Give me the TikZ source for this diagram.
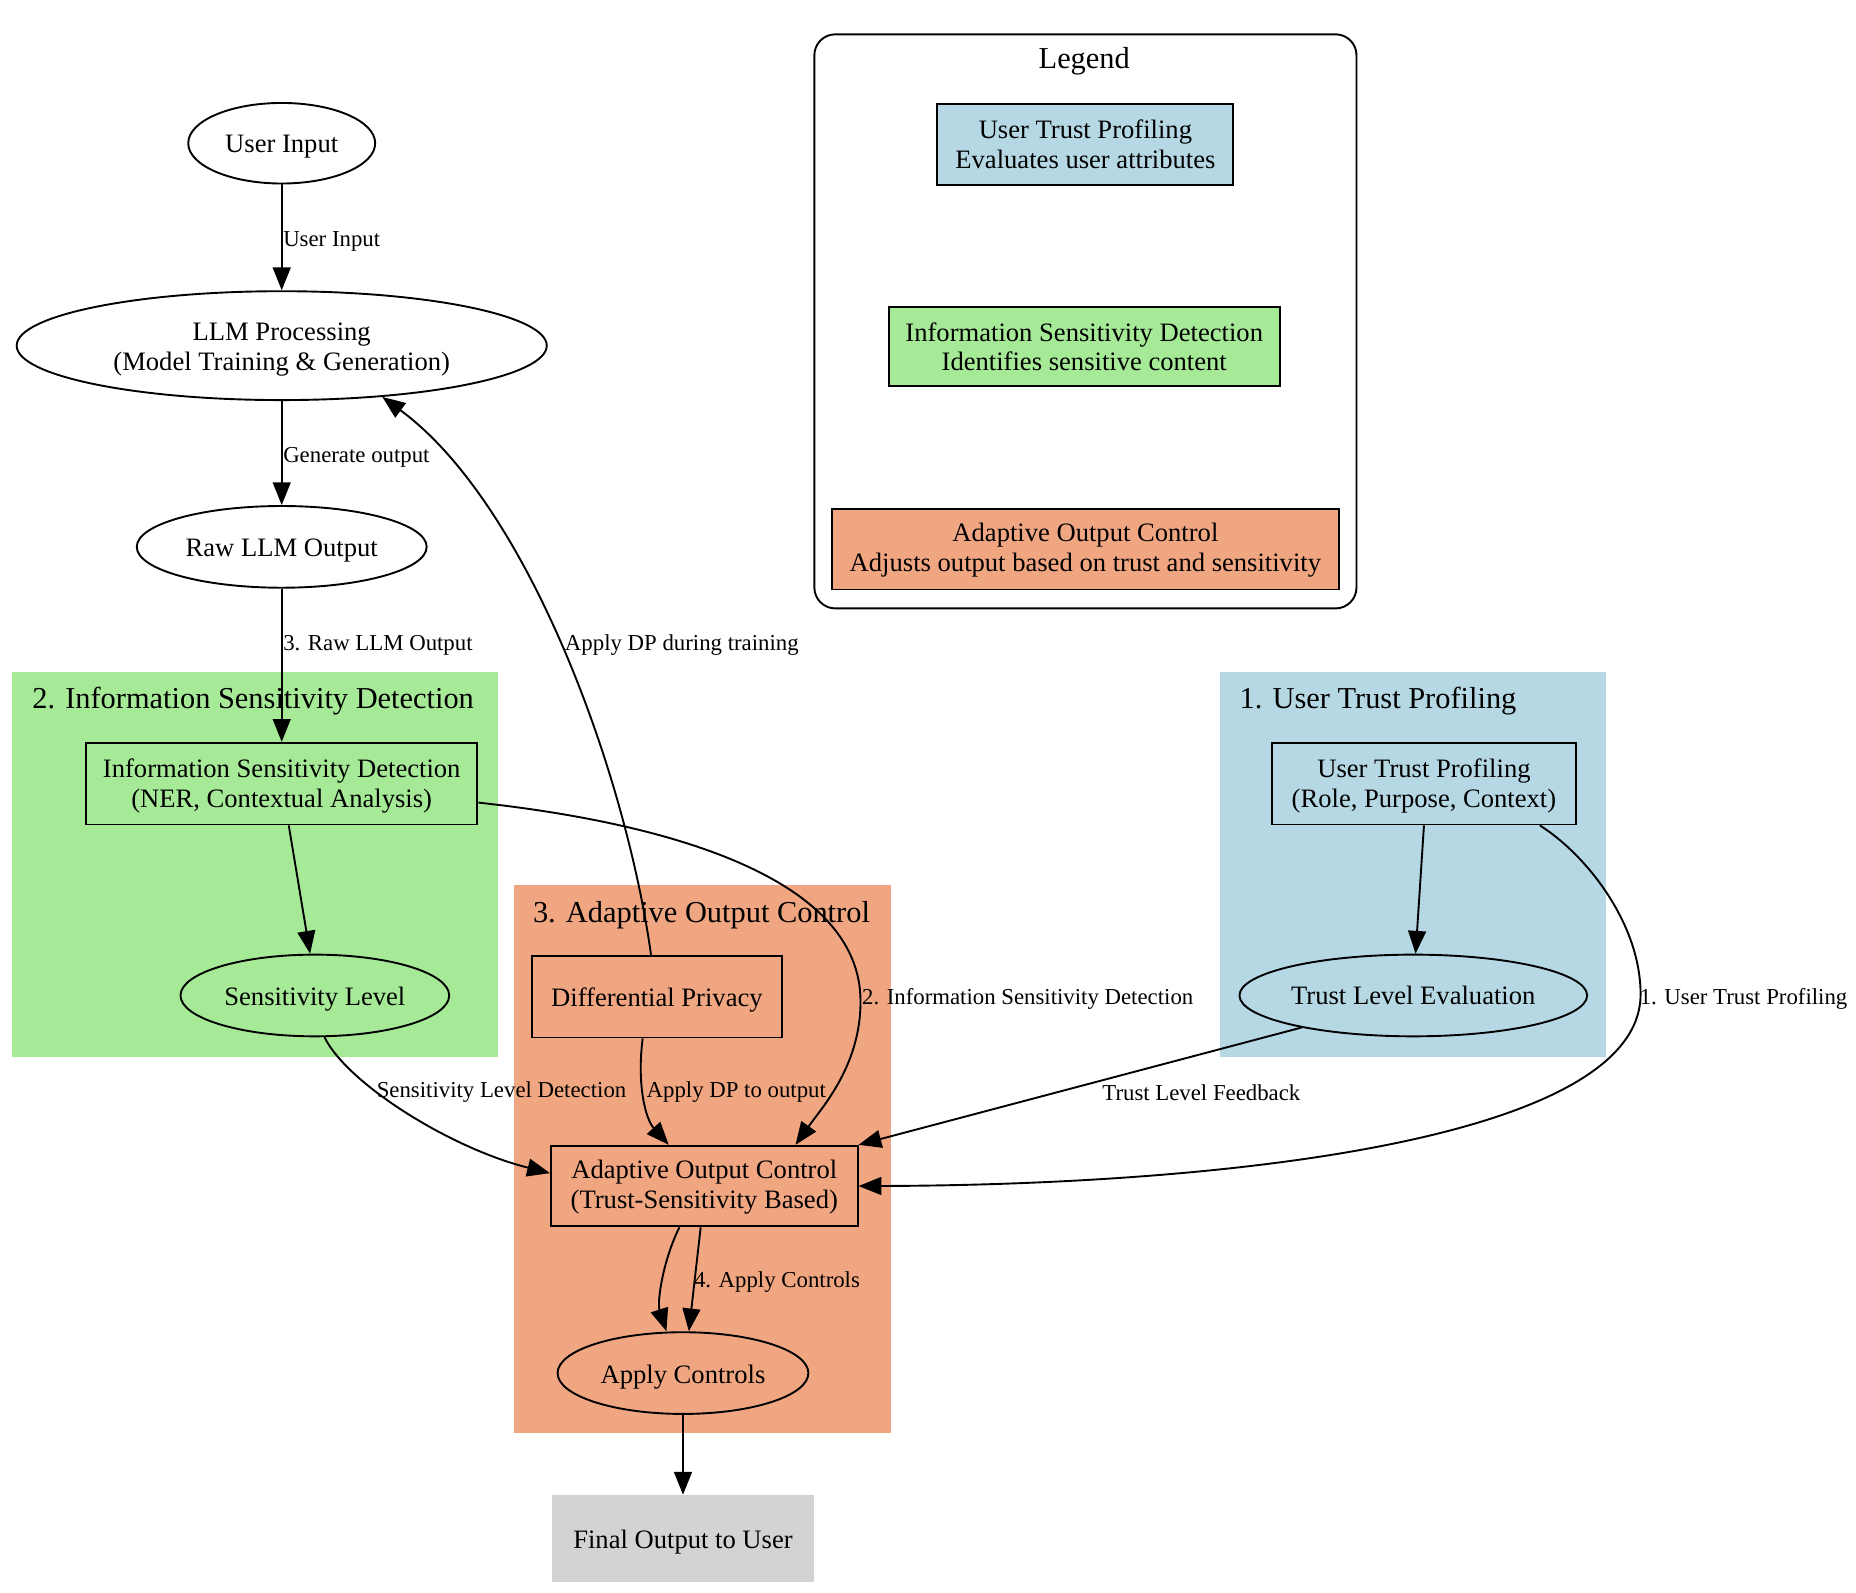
\documentclass[tikz,border=0pt]{standalone}
\usepackage{fontspec}
\setmainfont{Liberation Serif}
\usetikzlibrary{shapes.geometric,arrows.meta}
\definecolor{cblue}{HTML}{B6D8E4}
\definecolor{cgreen}{HTML}{A6EA98}
\definecolor{csalmon}{HTML}{F1A682}
\definecolor{cgray}{HTML}{D3D3D3}
\begin{document}
\begin{tikzpicture}[x=0.623pt,y=-0.623pt,
  nfont/.style={font=\fontsize{14pt}{15.6pt}\selectfont},
  txt/.style={nfont,align=center,inner sep=0pt},
  ell/.style={ellipse,draw,line width=1pt,inner sep=0pt},
  box/.style={rectangle,draw,line width=1pt,inner sep=0pt},
  arr/.style={-{Triangle[length=12pt,width=9.4pt]},line width=1pt},
  elab/.style={font=\fontsize{12pt}{14pt}\selectfont,anchor=west,inner sep=0pt},
  clab/.style={font=\fontsize{16pt}{18pt}\selectfont,anchor=west,inner sep=0pt},
]
\useasboundingbox (0,0) rectangle (1568,1345);

% clusters
\fill[cgreen] (10,568) rectangle (421,893);
\fill[csalmon] (434,748) rectangle (753,1211);
\fill[cblue] (1031,568) rectangle (1357,893);
\node[clab] (cl2) at (27,592) {2. Information Sensitivity Detection};
\node[clab] (cl3) at (450,773) {3. Adaptive Output Control};
\node[clab] (cl1) at (1047,592) {1. User Trust Profiling};

% legend
\draw[line width=1pt,rounded corners=11pt] (688,29) rectangle (1146,514);
\node[font=\fontsize{16pt}{18pt}\selectfont,inner sep=0pt] (lgt) at (916,52) {Legend};
\node[box, fill=cblue, minimum width=155.8pt, minimum height=43pt,
  label={[txt]center:{User Trust Profiling\\Evaluates user attributes}}] (lg1) at (917,122) {};
\node[box, fill=cgreen, minimum width=206pt, minimum height=41.7pt,
  label={[txt]center:{Information Sensitivity Detection\\Identifies sensitive content}}] (lg2) at (916,293) {};
\node[box, fill=csalmon, minimum width=266.6pt, minimum height=42.4pt,
  label={[txt,yshift=-0.6pt]center:{Adaptive Output Control\\Adjusts output based on trust and sensitivity}}] (lg3) at (917,464) {};

% nodes
\node[ell, minimum width=98.4pt, minimum height=42.4pt,
  label={[txt,yshift=-1.9pt]center:{User Input}}] (ui) at (238,121) {};
\node[ell, minimum width=279pt, minimum height=57.3pt,
  label={[txt,yshift=-1.9pt]center:{LLM Processing\\(Model Training \& Generation)}}] (llm) at (238,292) {};
\node[ell, minimum width=152.6pt, minimum height=43pt,
  label={[txt,yshift=-1.9pt]center:{Raw LLM Output}}] (raw) at (238,462) {};
\node[box, fill=cgreen, minimum width=206pt, minimum height=43pt,
  label={[txt,yshift=-1.25pt]center:{Information Sensitivity Detection\\(NER, Contextual Analysis)}}] (isd) at (238,662) {};
\node[ell, fill=cgreen, minimum width=141.4pt, minimum height=43pt,
  label={[txt,yshift=-1.9pt]center:{Sensitivity Level}}] (sl) at (266,841) {};
\node[box, fill=csalmon, minimum width=131.5pt, minimum height=43pt,
  label={[txt,yshift=-1.9pt]center:{Differential Privacy}}] (dp) at (555,842) {};
\node[box, fill=csalmon, minimum width=161.4pt, minimum height=42.4pt,
  label={[txt,yshift=-0.6pt]center:{Adaptive Output Control\\(Trust-Sensitivity Based)}}] (aoc) at (595,1002) {};
\node[ell, fill=csalmon, minimum width=132pt, minimum height=43pt,
  label={[txt,yshift=-1.9pt]center:{Apply Controls}}] (ac) at (577,1160) {};
\node[rectangle, fill=cgray, inner sep=0pt, minimum width=138.3pt, minimum height=46pt,
  label={[txt,yshift=-1.9pt]center:{Final Output to User}}] (fo) at (577,1300) {};
\node[box, fill=cblue, minimum width=160pt, minimum height=43pt,
  label={[txt,yshift=-1.25pt]center:{User Trust Profiling\\(Role, Purpose, Context)}}] (utp) at (1203,662) {};
\node[ell, fill=cblue, minimum width=183pt, minimum height=43pt,
  label={[txt]center:{Trust Level Evaluation}}] (tle) at (1194,841) {};

% edges
\draw[arr] (ui) -- (llm);
\draw[arr] (llm) -- (raw);
\draw[arr] (raw) -- (isd);
\draw[arr] ([xshift=3.7pt]isd.south) -- ([xshift=-2.5pt]sl.north);
\draw[arr] (utp.south) -- ([xshift=1.2pt]tle.north);
\draw[arr] (sl.283) .. controls (293,915) and (380,970) .. ([yshift=6.8pt]aoc.west);
\draw[arr] ([xshift=-7.5pt]dp.south) .. controls (538,915) and (545,945) .. ([xshift=-18.7pt]aoc.north);
\draw[arr] ([xshift=-3.1pt]dp.north) .. controls (528,650) and (445,425) .. (llm.-27);
\draw[arr] ([yshift=-10pt]isd.east) .. controls (560,695) and (727,740) .. (727,846) .. controls (727,900) and (695,935) .. ([xshift=48pt]aoc.north);
\draw[arr] (tle.196) -- (aoc.north east);
\draw[arr] ([xshift=61pt]utp.south) .. controls (1340,722) and (1386,780) .. (1386,840) .. controls (1386,960) and (1050,1001) .. (aoc.east);
\draw[arr] ([xshift=-13.1pt]aoc.south) .. controls (560,1065) and (555,1100) .. ([xshift=-8.7pt]ac.north);
\draw[arr] ([xshift=-1.9pt]aoc.south) -- ([xshift=3.1pt]ac.north);
\draw[arr] (ac) -- (fo);

% edge labels
\node[elab] (e1) at (239,204) {User Input};
\node[elab] (e2) at (239,386) {Generate output};
\node[elab] (e3) at (239,545) {3. Raw LLM Output};
\node[elab] (e4) at (477,545) {Apply DP during training};
\node[elab] (e5) at (728,844) {2. Information Sensitivity Detection};
\node[elab] (e6) at (1385,844) {1. User Trust Profiling};
\node[elab] (e7) at (318,923) {Sensitivity Level Detection};
\node[elab] (e8) at (546,923) {Apply DP to output};
\node[elab] (e9) at (931,923) {Trust Level Feedback};
\node[elab] (e10) at (586,1083) {4. Apply Controls};
\end{tikzpicture}
\end{document}
